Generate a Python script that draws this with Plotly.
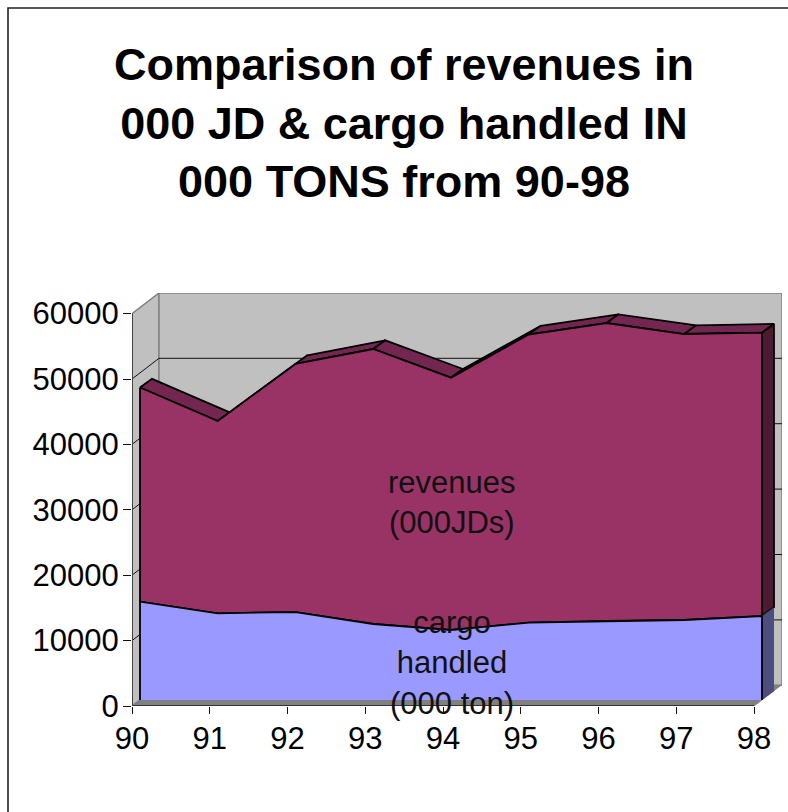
import plotly.graph_objects as go

# Data
years = ["90", "91", "92", "93", "94", "95", "96", "97", "98"]
cargo = [15030, 13260, 13450, 11620, 10700, 11820, 12080, 12230, 12840]
revenues = [32750, 29400, 37930, 42050, 38580, 44065, 45560, 43730, 43320]
y_ticks = [0, 10000, 20000, 30000, 40000, 50000, 60000]

title_text = "Comparison of revenues in<br>000 JD &amp; cargo handled IN<br>000 TONS from 90-98"

# Pixel layout
W, H = 788, 812
L, R, T, B = 132, 782, 293, 706          # plot rectangle
PX_PER_CAT = 77.75
PX_PER_UNIT = 65.4 / 10000

XMAX = (R - L) / PX_PER_CAT
YMAX = (B - T) / PX_PER_UNIT


def dx(px):
    return px / PX_PER_CAT


def dy(px):
    return px / PX_PER_UNIT


# Depth offsets (pixels right, pixels up)
WALL = (27, 20.7)
FRONT = (8, 6)
BACK = (20, 14.7)

FONT = "Liberation Sans"
n = len(years)
xs = list(range(n))
total = [c + r for c, r in zip(cargo, revenues)]
zero = [0] * n


def off(x, y, o):
    return x + dx(o[0]), y + dy(o[1])


def poly(points, fill, line="black", width=1.8):
    return go.Scatter(
        x=[p[0] for p in points] + [points[0][0]],
        y=[p[1] for p in points] + [points[0][1]],
        mode="lines", fill="toself", fillcolor=fill,
        line=dict(color=line, width=width, simplify=False),
        hoverinfo="skip", showlegend=False, cliponaxis=False,
    )


def band_front(lower, upper):
    pts = [off(x, v, FRONT) for x, v in zip(xs, upper)]
    pts += [off(x, v, FRONT) for x, v in reversed(list(zip(xs, lower)))]
    return pts


def side(lower, upper):
    i = n - 1
    return [off(xs[i], lower[i], FRONT), off(xs[i], lower[i], BACK),
            off(xs[i], upper[i], BACK), off(xs[i], upper[i], FRONT)]


fig = go.Figure()

# Walls and floor
wx, wy = dx(WALL[0]), dy(WALL[1])
GREY = "#c0c0c0"
EDGE = "#808080"
shapes = [
    # outer frame, running off the right and the bottom of the picture
    dict(type="rect", xref="paper", yref="paper",
         x0=(8 - L) / (R - L), x1=(W + 20 - L) / (R - L),
         y0=(B - (H + 20)) / (B - T), y1=(B - 8) / (B - T),
         line=dict(color="#222222", width=1.6), layer="below"),
    dict(type="path", path=f"M 0 0 L {wx} {wy} L {wx} {wy + 60000} L 0 60000 Z",
         fillcolor=GREY, line=dict(color=EDGE, width=1.4), layer="below"),
    dict(type="rect", x0=wx, x1=XMAX, y0=wy, y1=YMAX,
         fillcolor=GREY, line=dict(color=EDGE, width=1.4), layer="below"),
    dict(type="path",
         path=f"M 0 0 L {n - 1} 0 L {n - 1 + wx} {wy} L {wx} {wy} Z",
         fillcolor=EDGE, line=dict(color=EDGE, width=1), layer="below"),
]
for v in y_ticks[1:-1]:
    shapes.append(dict(type="line", x0=0, x1=wx, y0=v, y1=v + wy,
                       line=dict(color="#111111", width=1), layer="below"))
    shapes.append(dict(type="line", x0=wx, x1=XMAX, y0=v + wy, y1=v + wy,
                       line=dict(color="#111111", width=1), layer="below"))

# Top surface of the revenue band
for i in range(n - 1):
    fig.add_trace(poly([off(xs[i], total[i], FRONT), off(xs[i], total[i], BACK),
                        off(xs[i + 1], total[i + 1], BACK), off(xs[i + 1], total[i + 1], FRONT)],
                       "#732650"))

# Right-hand ends
fig.add_trace(poly(side(cargo, total), "#4d1a33"))
fig.add_trace(poly(side(zero, cargo), "#4d4d80", line="rgba(0,0,0,0)"))

# Front faces
fig.add_trace(poly(band_front(cargo, total), "#993366"))
fig.add_trace(poly(band_front(zero, cargo), "#9999ff", line="rgba(0,0,0,0)"))

# Outline of the cargo face, open along the floor
cargo_outline = [off(0, 0, FRONT)] + [off(x, v, FRONT) for x, v in zip(xs, cargo)] + [off(n - 1, 0, FRONT)]
fig.add_trace(go.Scatter(x=[p[0] for p in cargo_outline], y=[p[1] for p in cargo_outline],
                         mode="lines", line=dict(color="black", width=1.8),
                         hoverinfo="skip", showlegend=False, cliponaxis=False))

# Front axis lines
fig.add_trace(go.Scatter(x=[0, 0], y=[0, y_ticks[-1]], mode="lines",
                         line=dict(color="#444444", width=2),
                         hoverinfo="skip", showlegend=False, cliponaxis=False))
fig.add_trace(go.Scatter(x=[0, n - 1], y=[0, 0], mode="lines",
                         line=dict(color="#333333", width=2),
                         hoverinfo="skip", showlegend=False, cliponaxis=False))

annotations = [
    dict(x=4 + dx(9), xref="x", y=(706 - 502) / PX_PER_UNIT, yref="y",
         text="revenues<br>(000JDs)", showarrow=False, align="center",
         font=dict(family=FONT, size=31, color="#111111")),
    dict(x=4 + dx(9), xref="x", y=(706 - 663) / PX_PER_UNIT, yref="y",
         text="cargo<br>handled<br>(000 ton)", showarrow=False, align="center",
         font=dict(family=FONT, size=31, color="#111111")),
]

fig.update_layout(
    width=W, height=H, autosize=False,
    margin=dict(l=L, r=W - R, t=T, b=H - B),
    paper_bgcolor="white", plot_bgcolor="white",
    font=dict(family=FONT, color="black"),
    title=dict(text=title_text, x=404 / W, xanchor="center", xref="container",
               y=1 - 80 / H, yref="container", yanchor="middle",
               font=dict(family=FONT, size=45, color="black", weight="bold")),
    shapes=shapes, annotations=annotations, showlegend=False,
    xaxis=dict(range=[0, XMAX], tickmode="array", tickvals=xs, ticktext=years,
               showgrid=False, zeroline=False, showline=False,
               ticks="outside", ticklen=7, tickwidth=1, tickcolor="#111111",
               ticklabelstandoff=-2,
               tickfont=dict(family=FONT, size=31, color="black"), fixedrange=True),
    yaxis=dict(range=[0, YMAX], tickmode="array", tickvals=y_ticks,
               ticktext=[str(v) for v in y_ticks],
               showgrid=False, zeroline=False, showline=False,
               ticks="outside", ticklen=8, tickwidth=1, tickcolor="#111111",
               ticklabelstandoff=-2,
               tickfont=dict(family=FONT, size=31, color="black"), fixedrange=True),
)

fig.write_html("out.html", post_script="document.body.style.margin='0';",
               config={"displayModeBar": False})
